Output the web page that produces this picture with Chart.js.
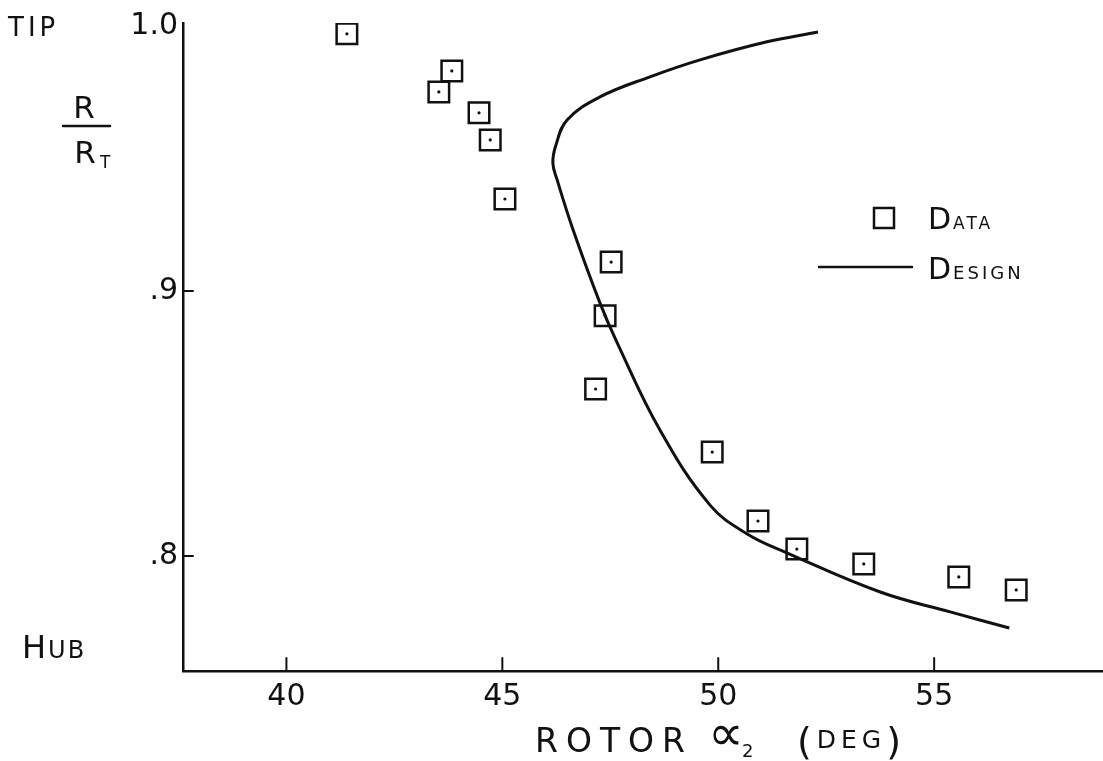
<!DOCTYPE html>
<html>
<head>
    <title>Rotor alpha2</title>
    <script src="https://cdn.jsdelivr.net/npm/chart.js"></script>
    <style>
        html, body { margin: 0; background: #fff; overflow: hidden; }
        #wrap { width: 1103px; height: 761px; }
        canvas { display: block; }
    </style>
</head>
<body>
    <div id="wrap"><canvas id="myChart"></canvas></div>

    <script>
        // measured rotor exit angle (deg) vs radius ratio R/Rt
        const dataAlpha = [41.40, 43.83, 43.53, 44.46, 44.72, 45.06, 47.52, 47.38, 47.16, 49.86, 50.92, 51.82, 53.37, 55.57, 56.90];
        const dataRadius = [0.9970, 0.9830, 0.9751, 0.9672, 0.9570, 0.9347, 0.9109, 0.8906, 0.8630, 0.8392, 0.8132, 0.8026, 0.7970, 0.7921, 0.7872];

        // design curve, tip end first
        const designAlpha = [52.31, 51.13, 49.58, 48.42, 47.26, 46.50, 46.24, 46.17, 46.27, 46.64, 47.26, 47.66, 48.65, 49.81, 50.67, 51.60, 53.75, 55.37, 56.74];
        const designRadius = [0.9977, 0.9940, 0.9872, 0.9808, 0.9732, 0.9645, 0.9550, 0.9483, 0.9419, 0.9230, 0.8955, 0.8804, 0.8475, 0.8192, 0.8083, 0.8011, 0.7864, 0.7789, 0.7728];

        const xTicks = [40, 45, 50, 55];
        const yTicks = [0.8, 0.9, 1.0];
        const yTickLabels = ['.8', '.9', '1.0'];

        const ink = '#111';
        const font = '"DejaVu Sans"';

        const measured = dataAlpha.map((a, i) => ({ x: a, y: dataRadius[i] }));
        const design = designAlpha.map((a, i) => ({ x: a, y: designRadius[i] }));

        function txt(ctx, s, x, y, size, spacing) {
            ctx.font = size + 'px ' + font;
            ctx.letterSpacing = (spacing || 0) + 'px';
            ctx.fillText(s, x, y);
            return x + ctx.measureText(s).width;
        }

        // inward tick marks, axis labels and the hand-made key
        const annotations = {
            id: 'annotations',
            afterDraw(chart) {
                const ctx = chart.ctx;
                const xs = chart.scales.x, ys = chart.scales.y;
                const area = chart.chartArea;
                ctx.save();
                ctx.strokeStyle = ink;
                ctx.fillStyle = ink;
                ctx.lineWidth = 2;
                ctx.lineCap = 'round';

                xTicks.forEach(v => {
                    const px = xs.getPixelForValue(v);
                    ctx.beginPath();
                    ctx.moveTo(px, area.bottom);
                    ctx.lineTo(px, area.bottom - 13);
                    ctx.stroke();
                });
                yTicks.filter(v => v < 1).forEach(v => {
                    const py = ys.getPixelForValue(v);
                    ctx.beginPath();
                    ctx.moveTo(area.left, py);
                    ctx.lineTo(area.left + 10, py);
                    ctx.stroke();
                });

                ctx.textAlign = 'left';
                ctx.textBaseline = 'alphabetic';

                // TIP / HUB
                txt(ctx, 'TIP', 8, 36, 26, 4);
                let x = txt(ctx, 'H', 22, 658, 32, 1);
                txt(ctx, 'UB', x + 1, 658, 24, 2);

                // R / Rt
                ctx.textAlign = 'center';
                txt(ctx, 'R', 84, 118, 31);
                txt(ctx, 'R', 85, 163, 31);
                ctx.textAlign = 'left';
                txt(ctx, 'T', 100, 168, 17);
                ctx.lineWidth = 2.5;
                ctx.beginPath();
                ctx.moveTo(63, 126);
                ctx.lineTo(110, 126);
                ctx.stroke();

                // x title
                txt(ctx, 'ROTOR', 535, 752, 33, 8);
                txt(ctx, '\u221D', 708, 750, 50);
                txt(ctx, '2', 742, 757, 18);
                x = txt(ctx, '(', 797, 754, 38);
                x = txt(ctx, 'DEG', x + 5, 748, 25, 5);
                txt(ctx, ')', x, 754, 38);

                // key
                ctx.lineWidth = 2.5;
                ctx.strokeRect(874, 208, 20, 20);
                x = txt(ctx, 'D', 928, 229, 30);
                txt(ctx, 'ATA', x + 2, 229, 17, 3);
                ctx.beginPath();
                ctx.moveTo(819, 267);
                ctx.lineTo(912, 267);
                ctx.stroke();
                x = txt(ctx, 'D', 928, 279, 30);
                txt(ctx, 'ESIGN', x + 2, 279, 18, 3);

                ctx.restore();
            }
        };

        const ctx = document.getElementById('myChart').getContext('2d');

        new Chart(ctx, {
            type: 'scatter',
            data: {
                datasets: [{
                    label: 'Design',
                    data: design,
                    showLine: true,
                    tension: 0.4,
                    borderColor: ink,
                    borderWidth: 3,
                    pointRadius: 0
                }, {
                    label: 'Data',
                    data: measured,
                    pointStyle: 'rect',
                    pointRadius: 14.5,
                    pointBorderWidth: 2.5,
                    pointBorderColor: ink,
                    pointBackgroundColor: 'rgba(0,0,0,0)'
                }, {
                    label: 'Data centre',
                    data: measured,
                    pointStyle: 'circle',
                    pointRadius: 1.6,
                    pointBorderWidth: 0,
                    pointBackgroundColor: ink
                }]
            },
            options: {
                responsive: true,
                maintainAspectRatio: false,
                animation: false,
                layout: {
                    autoPadding: false,
                    padding: { top: 23, right: 0, left: 0, bottom: 0 }
                },
                plugins: {
                    legend: { display: false },
                    tooltip: { enabled: false }
                },
                scales: {
                    x: {
                        type: 'linear',
                        min: 37.605,
                        max: 58.91,
                        afterBuildTicks: s => { s.ticks = xTicks.map(v => ({ value: v })); },
                        afterFit: s => {
                            s.height = 90;
                            s.paddingLeft = 0;
                            s.paddingRight = 0;
                        },
                        grid: { display: false, drawTicks: false },
                        border: { color: ink, width: 2.5 },
                        ticks: {
                            color: ink,
                            font: { family: 'DejaVu Sans', size: 30 },
                            padding: 8,
                            maxRotation: 0,
                            autoSkip: false,
                            callback: v => String(v)
                        }
                    },
                    y: {
                        type: 'linear',
                        min: 0.7566,
                        max: 1.0011,
                        afterBuildTicks: s => { s.ticks = yTicks.map(v => ({ value: v })); },
                        afterFit: s => {
                            s.width = 183;
                            s.paddingTop = 0;
                            s.paddingBottom = 0;
                        },
                        grid: { display: false, drawTicks: false },
                        border: { color: ink, width: 2.5 },
                        ticks: {
                            color: ink,
                            font: { family: 'DejaVu Sans', size: 30 },
                            padding: 5,
                            autoSkip: false,
                            callback: (v, i) => yTickLabels[i]
                        }
                    }
                }
            },
            plugins: [annotations]
        });
    </script>
</body>
</html>
